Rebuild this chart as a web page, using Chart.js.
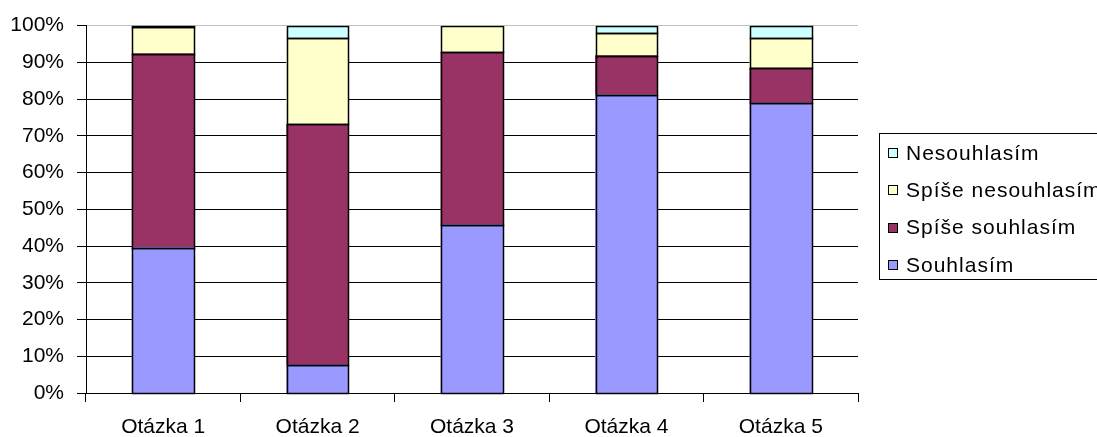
<!DOCTYPE html>
<html>
<head>
<meta charset="utf-8">
<script src="https://cdn.jsdelivr.net/npm/chart.js@4/dist/chart.umd.min.js"></script>
<style>
  html, body { margin: 0; padding: 0; background: #fff; }
  canvas { display: block; }
</style>
</head>
<body>
<canvas id="graf" width="1097" height="437"></canvas>
<script>
// otázky a odpovědi (v %)
const otazky = ['Otázka 1', 'Otázka 2', 'Otázka 3', 'Otázka 4', 'Otázka 5'];
const souhlasim = [39.6, 7.6, 45.8, 81.2, 78.9];
const spiseSouhlasim = [52.7, 65.5, 46.9, 10.6, 9.5];
const spiseNesouhlasim = [7.2, 23.5, 7.3, 6.2, 8.2];
const nesouhlasim = [0.5, 3.4, 0, 2.0, 3.4];
const yTicky = [0, 10, 20, 30, 40, 50, 60, 70, 80, 90, 100];

const FONT = '"Liberation Sans", Arial, sans-serif';

// ostré černé obrysy sloupců (zaokrouhlené na pixely)
const obrysy = {
    id: 'obrysy',
    afterDatasetsDraw(chart) {
        const ctx = chart.ctx;
        ctx.save();
        ctx.strokeStyle = '#000';
        ctx.lineWidth = 1.5;
        chart.data.datasets.forEach((ds, i) => {
            chart.getDatasetMeta(i).data.forEach((bar, j) => {
                if (!ds.data[j]) return;
                const l = Math.round(bar.x - bar.width / 2) + 0.5;
                const r = Math.round(bar.x + bar.width / 2) + 0.5;
                const t = Math.round(Math.min(bar.y, bar.base)) + 0.5;
                const b = Math.round(Math.max(bar.y, bar.base)) + 0.5;
                ctx.strokeRect(l, t, r - l, b - t);
            });
        });
        ctx.restore();
    }
};

// legenda vpravo v rámečku (pořadí obráceně, jako v Excelu)
const legendaExcel = {
    id: 'legendaExcel',
    afterDraw(chart) {
        const ctx = chart.ctx;
        const x0 = 879.5, y0 = 133.5, h = 146;
        ctx.save();
        ctx.strokeStyle = '#000';
        ctx.lineWidth = 1;
        ctx.strokeRect(x0, y0, 1097 - x0 + 5, h);
        ctx.font = '21px ' + FONT;
        ctx.letterSpacing = '1px';
        ctx.textBaseline = 'middle';
        ctx.fillStyle = '#000';
        const sady = chart.data.datasets.slice().reverse();
        sady.forEach((ds, i) => {
            const y = 153 + i * 37.3;
            ctx.fillStyle = ds.backgroundColor;
            ctx.fillRect(888.5, Math.round(y) - 4.5, 9, 9);
            ctx.strokeRect(888.5, Math.round(y) - 4.5, 9, 9);
            ctx.fillStyle = '#000';
            ctx.fillText(ds.label, 906, y + 1);
        });
        ctx.restore();
    }
};

const sada = (label, data, barva) => ({
    label: label,
    data: data,
    backgroundColor: barva,
    borderWidth: 0,
    inflateAmount: 0.5,
    barPercentage: 0.4,
    categoryPercentage: 1.0
});

new Chart(document.getElementById('graf').getContext('2d'), {
    type: 'bar',
    data: {
        labels: otazky,
        datasets: [
            sada('Souhlasím', souhlasim, '#9999FF'),
            sada('Spíše souhlasím', spiseSouhlasim, '#993366'),
            sada('Spíše nesouhlasím', spiseNesouhlasim, '#FFFFCC'),
            sada('Nesouhlasím', nesouhlasim, '#CCFFFF')
        ]
    },
    options: {
        responsive: false,
        animation: false,
        layout: { padding: { top: 22, right: 239, bottom: 0, left: 0 } },
        plugins: {
            legend: { display: false },
            tooltip: { enabled: false }
        },
        scales: {
            x: {
                stacked: true,
                afterFit: (s) => { s.height = 44; },
                grid: {
                    drawOnChartArea: false,
                    drawTicks: true,
                    tickLength: 9,
                    tickColor: '#000',
                    offset: true
                },
                border: { color: '#000', width: 1 },
                ticks: {
                    color: '#000',
                    padding: 13,
                    font: { family: FONT, size: 21 }
                }
            },
            y: {
                stacked: true,
                min: 0,
                max: 100,
                afterFit: (s) => { s.width = 86; },
                afterBuildTicks: (s) => { s.ticks = yTicky.map(v => ({ value: v })); },
                grid: {
                    color: (c) => c.tick && c.tick.value === 100 ? '#C0C0C0' : '#000',
                    tickColor: '#000',
                    tickLength: 9,
                    lineWidth: 1
                },
                border: { color: '#000', width: 1 },
                ticks: {
                    color: '#000',
                    padding: 13,
                    font: { family: FONT, size: 21 },
                    callback: (v) => v + '%'
                }
            }
        }
    },
    plugins: [obrysy, legendaExcel]
});
</script>
</body>
</html>
